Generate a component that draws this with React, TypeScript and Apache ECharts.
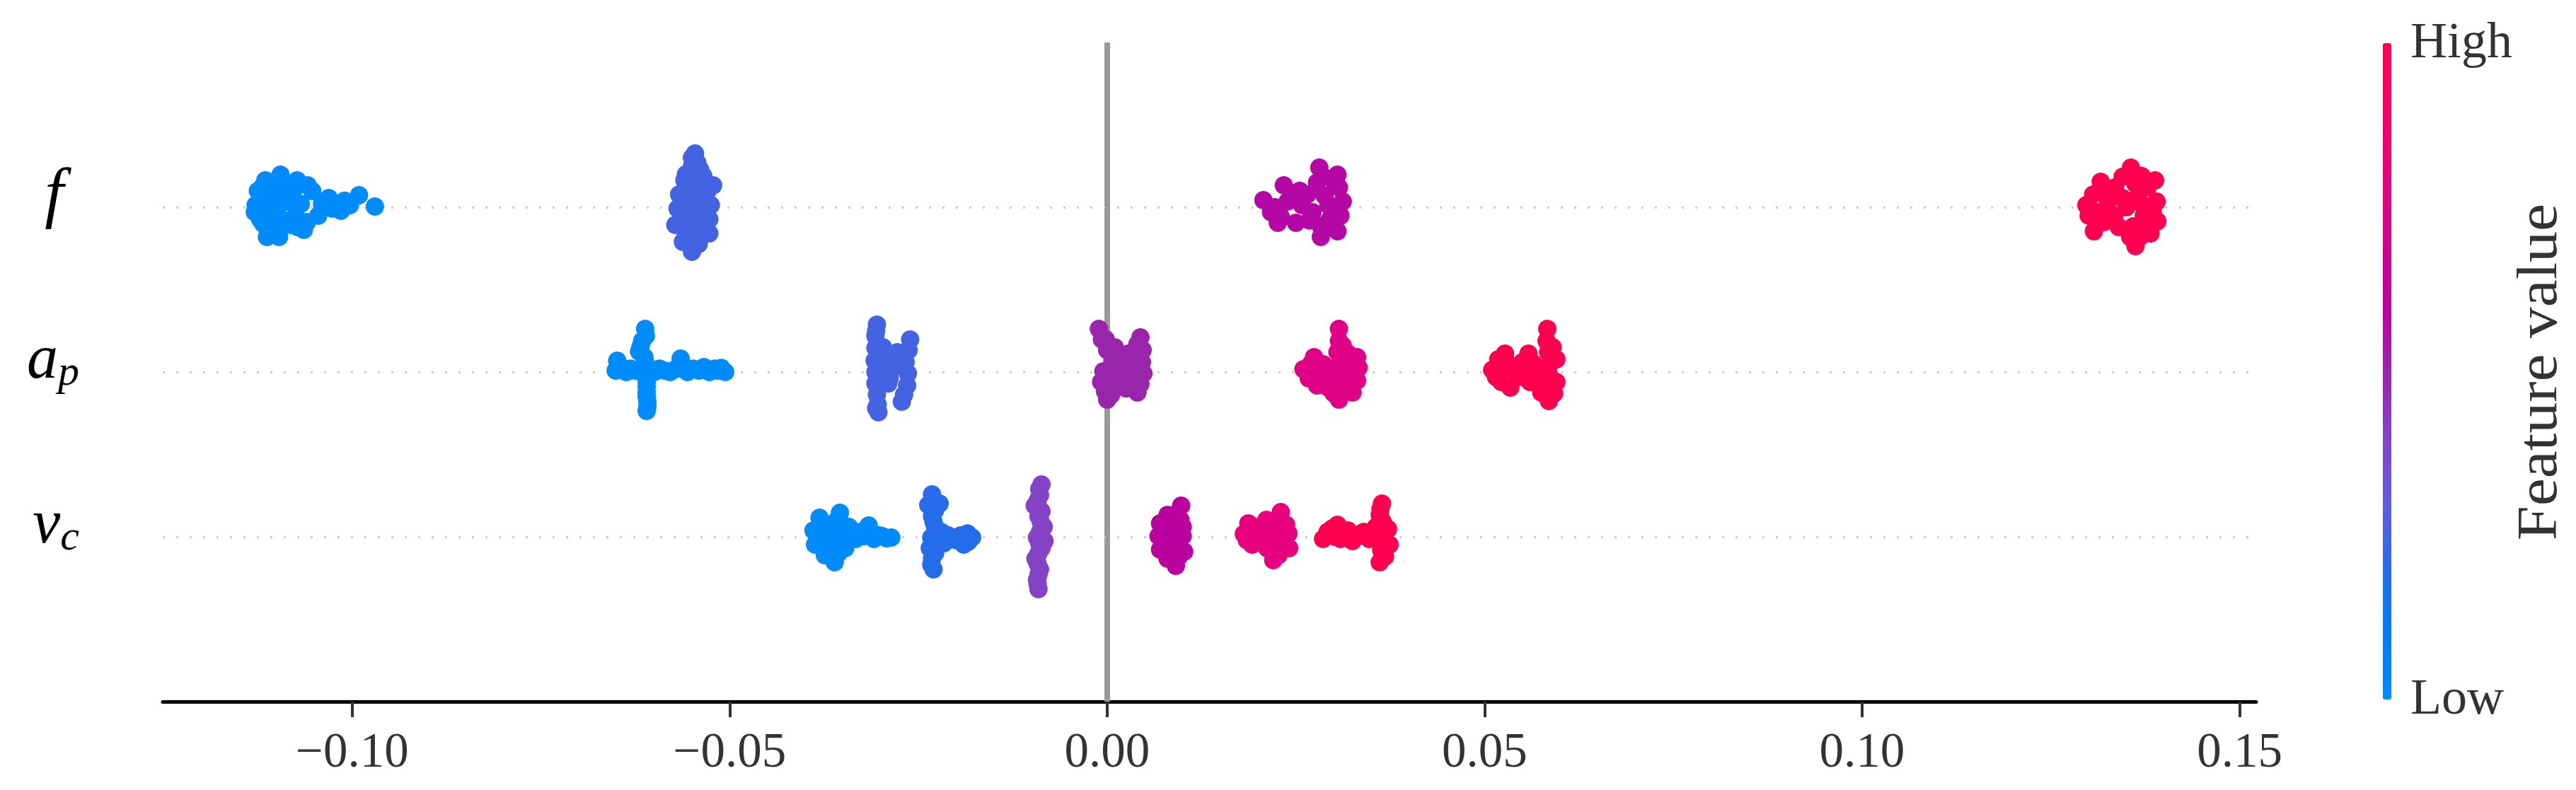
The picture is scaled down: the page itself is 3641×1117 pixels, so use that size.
import React, { useEffect, useRef } from "react";
import * as echarts from "echarts";

// ---------- axis / legend content ----------
const X_MIN = -0.1251;
const X_MAX = 0.1522;
const X_TICKS = [-0.1, -0.05, 0, 0.05, 0.1, 0.15];
const ROW_LABELS = ["v_c", "a_p", "f"]; // rows 0, 1, 2 (bottom to top)
const LEGEND_TEXT = { high: "High", low: "Low", title: "Feature value" };

// SHAP red_blue colormap (low -> high)
const COLOR_STOPS = [
  "#008bfb", "#007cf5", "#246cea", "#635adb", "#8443c6", "#9b24ad",
  "#bb00a0", "#d5008f", "#e9007c", "#f90067", "#ff0051",
];

// normalised feature value of each cluster (0 = low, 1 = high)
const F_LEVELS = [0, 0.25, 0.58, 1];
const AP_LEVELS = [0, 0.25, 0.5, 0.75, 1];
const VC_LEVELS = [0, 0.2, 0.4, 0.6, 0.8, 1];

// ---------- SHAP values: [shap value, beeswarm offset] ----------
const f_L0 = [[-0.1128,0.013],[-0.1125,0.099],[-0.1122,-0.073],[-0.1115,0.163],[-0.1113,0.013],[-0.1111,-0.124],[-0.1113,-0.18],[-0.1101,0.099],[-0.1099,-0.052],[-0.1095,0.197],[-0.1097,-0.18],[-0.1087,0.034],[-0.1083,0.133],[-0.1081,-0.107],[-0.1073,0.163],[-0.1075,-0.052],[-0.1064,-0.137],[-0.1059,0.133],[-0.1053,0.099],[-0.1045,-0.052],[-0.1031,0.056],[-0.1015,-0.021],[-0.1003,0.013],[-0.0991,0.073],[-0.097,0.004],[-0.1026,-0.009],[-0.1106,0.056],[-0.1092,-0.116],[-0.1129,-0.03],
  [-0.112,0.03],[-0.1105,-0.02],[-0.109,0.07],[-0.1078,0.1],[-0.1068,0.02],[-0.106,-0.09],[-0.1105,-0.15],[-0.1118,0.13],[-0.104,0.02],[-0.101,0.04],[-0.11,0.16],[-0.1072,-0.12],[-0.1118,-0.1],[-0.1085,-0.08],[-0.1095,0.02]];
const f_L1 = [[-0.0546,0.326],[-0.055,0.249],[-0.0539,0.227],[-0.056,0.163],[-0.0544,0.15],[-0.0522,0.133],[-0.0567,0.077],[-0.0553,0.064],[-0.0534,0.047],[-0.0525,0.013],[-0.0569,-0.009],[-0.0556,-0.03],[-0.0539,-0.052],[-0.0527,-0.073],[-0.0572,-0.107],[-0.056,-0.137],[-0.0544,-0.15],[-0.0527,-0.159],[-0.0562,-0.21],[-0.055,-0.27],[-0.0541,-0.223],
  [-0.055,0.3],[-0.0535,0.19],[-0.0555,0.11],[-0.0548,0.02],[-0.0548,-0.09],[-0.0535,-0.12],[-0.0553,-0.18],[-0.0558,0.2],[-0.053,0.09],[-0.0543,0.27]];
const f_L2 = [[0.0207,0.043],[0.0217,-0.03],[0.0226,-0.094],[0.0234,0.133],[0.0239,0.034],[0.025,-0.094],[0.0258,0.013],[0.0265,0.077],[0.0272,-0.03],[0.0281,0.24],[0.0278,0.15],[0.0283,-0.116],[0.0283,-0.18],[0.0293,0.013],[0.0305,0.197],[0.0307,0.12],[0.0312,0.034],[0.0309,-0.052],[0.0305,-0.146],[0.0295,-0.073],
  [0.0245,0.06],[0.0222,0],[0.0268,-0.08],[0.0288,0.07],[0.03,0.16],[0.0297,-0.11],[0.0285,0.19],[0.03,-0.02],[0.023,-0.06],[0.0255,0.1]];
const f_L3 = [[0.1297,0.013],[0.1306,0.077],[0.1316,0.155],[0.1312,-0.03],[0.1307,-0.146],[0.1326,0.034],[0.1334,-0.052],[0.1345,0.056],[0.1345,0.185],[0.1356,0.24],[0.1362,0.142],[0.1359,-0.116],[0.1362,-0.236],[0.1368,-0.18],[0.1372,0.013],[0.1378,0.12],[0.1388,0.163],[0.139,0.034],[0.1391,-0.086],[0.1382,-0.159],[0.1373,-0.052],
  [0.132,0.1],[0.1335,0.12],[0.135,0],[0.1365,0.06],[0.138,-0.1],[0.1355,-0.18],[0.137,0.19],[0.1385,-0.03],[0.132,-0.09],[0.13,-0.05],[0.134,-0.12]];

const ap_L0 = [[-0.0651,0.009],[-0.0649,0.069],[-0.0637,0],[-0.0625,0.009],[-0.06,0],[-0.0586,0.009],[-0.0572,0.017],[-0.0565,0.082],[-0.0556,0],[-0.0541,0.009],[-0.0527,0],[-0.0516,0.009],[-0.0506,0],[-0.0612,0.262],[-0.0616,0.189],[-0.062,0.124],[-0.0612,0.06],[-0.061,-0.06],[-0.061,-0.124],[-0.0609,-0.18],[-0.061,-0.236],[-0.0612,0],
  [-0.0644,0.03],[-0.0631,0.02],[-0.0593,0.02],[-0.0579,0],[-0.0563,0.03],[-0.0548,0.02],[-0.0534,0.03],[-0.052,0.02],[-0.0511,0.025],[-0.0611,0.22],[-0.0618,0.155],[-0.0613,0.09],[-0.0611,-0.03],[-0.061,-0.09],[-0.061,-0.15],[-0.0609,-0.21]];
const ap_L1 = [[-0.0305,0.288],[-0.0307,0.219],[-0.0307,0.146],[-0.0308,0.069],[-0.0307,0],[-0.0307,-0.069],[-0.0305,-0.137],[-0.0304,-0.197],[-0.0303,-0.245],[-0.0291,0.09],[-0.0284,0.026],[-0.0288,-0.039],[-0.0278,0.12],[-0.0261,0.197],[-0.0263,0.133],[-0.0267,0.06],[-0.0264,-0.009],[-0.0265,-0.082],[-0.0269,-0.137],[-0.0272,-0.18],
  [-0.0296,0.05],[-0.0294,-0.02],[-0.029,-0.07],[-0.0297,0.15],[-0.0306,0.25],[-0.0306,-0.22],[-0.0275,0.07]];
const ap_L2 = [[-0.0011,0.262],[-0.0007,0.197],[0,0.133],[0.0007,0.069],[0.0014,0.017],[-0.0005,0.004],[-0.0008,-0.06],[-0.0003,-0.116],[0,-0.167],[0.0012,-0.094],[0.0023,-0.039],[0.0033,0.004],[0.0044,0.21],[0.0047,0.133],[0.0046,0.06],[0.0048,-0.009],[0.0044,-0.073],[0.004,-0.124],[0.0028,0.112],
  [0.001,0.15],[0.002,0.08],[0.003,0.04],[0.0015,-0.03],[0.0035,-0.06],[0.0025,-0.1],[-0.0002,0.2],[0.004,0.17],[0.0005,-0.14]];
const ap_L3 = [[0.0307,0.262],[0.0307,0.189],[0.0305,0.12],[0.0307,0.047],[0.0309,-0.017],[0.0307,-0.094],[0.0307,-0.167],[0.026,0.017],[0.0267,-0.039],[0.0274,0.09],[0.0278,-0.082],[0.0286,0.047],[0.0293,-0.094],[0.0331,0.09],[0.0333,0.026],[0.0331,-0.052],[0.0325,-0.124],[0.0319,0.112],
  [0.03,0],[0.0315,0.05],[0.032,-0.08],[0.029,0],[0.03,-0.13],[0.0312,0.16],[0.0282,-0.03],[0.027,0.05],[0.0318,-0.02]];
const ap_L4 = [[0.051,0.013],[0.0518,0.077],[0.0527,0.112],[0.0522,-0.06],[0.0534,-0.094],[0.0539,0.017],[0.055,0.06],[0.0558,0.112],[0.056,-0.06],[0.0569,0.004],[0.0583,0.262],[0.0582,0.189],[0.0584,0.12],[0.0586,0.047],[0.0586,-0.026],[0.0585,-0.103],[0.0585,-0.176],[0.0595,0.077],[0.0595,-0.06],[0.0575,-0.124],
  [0.053,0.04],[0.0545,-0.03],[0.0565,0.05],[0.0572,-0.08],[0.059,0.15],[0.0592,-0.13],[0.0555,-0.02],[0.0515,-0.03],[0.0528,0.07]];

const vc_L0 = [[-0.0389,0.039],[-0.0387,-0.047],[-0.0381,0.116],[-0.0377,0.004],[-0.0374,-0.112],[-0.0366,0.073],[-0.0364,-0.026],[-0.0361,-0.155],[-0.0354,0.146],[-0.0352,0.03],[-0.0347,-0.069],[-0.0342,0.06],[-0.0333,-0.013],[-0.0322,0.004],[-0.0309,-0.013],[-0.0298,0.004],[-0.0286,-0.004],[-0.0316,0.069],
  [-0.038,0.06],[-0.037,-0.06],[-0.0358,0.1],[-0.0368,0.02],[-0.0356,-0.1],[-0.0345,0],[-0.0384,-0.02],[-0.0327,0.03],[-0.0303,0.01],[-0.0292,-0.01]];
const vc_L1 = [[-0.0232,0.258],[-0.0222,0.202],[-0.0237,0.193],[-0.0232,0.124],[-0.0228,0.06],[-0.0233,-0.004],[-0.0235,-0.069],[-0.0232,-0.133],[-0.023,-0.197],[-0.022,0.03],[-0.0216,-0.039],[-0.0206,-0.004],[-0.0194,0.009],[-0.019,-0.047],[-0.0179,-0.004],
  [-0.0228,0.16],[-0.023,0.09],[-0.0226,0.02],[-0.023,-0.04],[-0.0228,-0.1],[-0.0233,-0.17],[-0.0211,0.01],[-0.02,-0.02],[-0.0185,0.02],[-0.0184,-0.03]];
const vc_L2 = [[-0.0087,0.318],[-0.0089,0.253],[-0.0096,0.189],[-0.0091,0.124],[-0.0084,0.06],[-0.0093,-0.004],[-0.0087,-0.069],[-0.0095,-0.133],[-0.0089,-0.197],[-0.0093,-0.262],[-0.0091,-0.318],[-0.0083,-0.026],
  [-0.009,0.29],[-0.0092,0.22],[-0.0087,0.155],[-0.0088,0.09],[-0.0089,0.03],[-0.009,-0.04],[-0.0091,-0.1],[-0.0092,-0.165],[-0.0091,-0.23],[-0.0092,-0.29]];
const vc_L3 = [[0.007,0.082],[0.0068,0.004],[0.007,-0.077],[0.008,0.133],[0.0082,0.039],[0.0084,-0.039],[0.008,-0.133],[0.0091,-0.176],[0.0098,0.189],[0.0097,0.103],[0.01,0.004],[0.0102,-0.09],[0.0091,-0.004],
  [0.0075,0.03],[0.0087,0.08],[0.009,-0.06],[0.0078,-0.1],[0.0092,0.14],[0.0086,0],[0.0075,-0.03],[0.0095,-0.12],[0.01,0.06]];
const vc_L4 = [[0.0181,0.017],[0.0187,0.082],[0.0192,-0.047],[0.0202,0.03],[0.0209,-0.026],[0.0216,0.06],[0.022,-0.09],[0.023,0.15],[0.0228,-0.004],[0.0237,0.073],[0.0241,-0.069],[0.022,-0.142],[0.0211,0.103],
  [0.0195,0.06],[0.02,-0.01],[0.0215,0.02],[0.0225,0.04],[0.0232,-0.04],[0.023,0.1],[0.0212,-0.07],[0.0185,-0.02],[0.024,0.02],[0.0227,-0.11]];
const vc_L5 = [[0.0286,-0.013],[0.0297,0.017],[0.0309,-0.013],[0.0319,0.039],[0.0325,-0.026],[0.0335,0.017],[0.0347,-0.013],[0.0356,0.06],[0.0364,0.202],[0.0361,0.133],[0.0366,-0.004],[0.0363,-0.082],[0.0361,-0.155],[0.0372,0.047],[0.0374,-0.047],[0.0305,0.073],
  [0.0292,0.03],[0.0302,0],[0.0314,0.02],[0.033,0],[0.034,0.03],[0.0352,-0.01],[0.0362,0.17],[0.0365,0.09],[0.0364,0.03],[0.0368,-0.12],[0.0362,-0.04],[0.0298,0.05]];

const F_CLUSTERS = [f_L0, f_L1, f_L2, f_L3];
const AP_CLUSTERS = [ap_L0, ap_L1, ap_L2, ap_L3, ap_L4];
const VC_CLUSTERS = [vc_L0, vc_L1, vc_L2, vc_L3, vc_L4, vc_L5];

function buildRow(clusters: number[][][], levels: number[], row: number) {
  const out: number[][] = [];
  clusters.forEach((pts, ci) => {
    pts.forEach(([x, j]) => out.push([x, row + j, levels[ci]]));
  });
  return out;
}

const SERIF = "'Liberation Serif', 'Times New Roman', serif";

export default function App() {
  const ref = useRef<HTMLDivElement>(null);

  useEffect(() => {
    document.body.style.margin = "0";
    if (!ref.current) return;
    const chart = echarts.init(ref.current, undefined, { renderer: "svg" });

    const dotted = { color: "#cccccc", width: 3, type: [3, 16] as any };
    const yLabel = (v: number) => {
      const name = ROW_LABELS[Math.round(v)];
      if (v < 0 || v > 2 || !name) return "";
      if (name === "f") return "{fi|f}";
      const [base, sub] = name.split("_");
      return `{i|${base}}{s|${sub}}`;
    };

    const option: any = {
      animation: false,
      backgroundColor: "#ffffff",
      grid: { left: 230, right: 452, top: 60, bottom: 125, containLabel: false },
      xAxis: {
        type: "value",
        min: X_MIN,
        max: X_MAX,
        axisLine: { show: true, onZero: false, lineStyle: { color: "#000000", width: 5 } },
        axisTick: {
          show: true,
          customValues: X_TICKS,
          length: 22,
          lineStyle: { color: "#333333", width: 4 },
        },
        axisLabel: {
          customValues: X_TICKS,
          formatter: (v: number) => {
            const a = Math.abs(v).toFixed(2);
            return v < -1e-9 ? "\u2212" + a : a;
          },
          fontFamily: SERIF,
          fontSize: 69,
          color: "#333333",
          margin: 34,
        },
        splitLine: { show: false },
      },
      yAxis: {
        type: "value",
        min: -1,
        max: 3,
        interval: 1,
        axisLine: { show: false, onZero: false },
        axisTick: { show: false },
        splitLine: { show: false },
        axisLabel: {
          formatter: yLabel,
          margin: 118,
          padding: [0, 0, 44, 0],
          rich: {
            fi: { fontFamily: SERIF, fontStyle: "italic", fontSize: 96, lineHeight: 100, color: "#000", padding: [0, 22, 0, 0] },
            i: { fontFamily: SERIF, fontStyle: "italic", fontSize: 88, lineHeight: 100, color: "#000" },
            s: { fontFamily: SERIF, fontStyle: "italic", fontSize: 60, lineHeight: 56, color: "#000", verticalAlign: "bottom" },
          },
        },
      },
      visualMap: {
        type: "continuous",
        dimension: 2,
        min: 0,
        max: 1,
        orient: "vertical",
        left: 3368,
        top: 61,
        itemWidth: 12,
        itemHeight: 928,
        padding: 0,
        calculable: false,
        hoverLink: false,
        showLabel: false,
        inRange: { color: COLOR_STOPS },
      },
      graphic: [
        {
          type: "text",
          left: 3407,
          top: 61 - 40,
          style: { text: LEGEND_TEXT.high, fontFamily: SERIF, fontSize: 72, fill: "#333333" },
        },
        {
          type: "text",
          left: 3407,
          top: 989 - 40,
          style: { text: LEGEND_TEXT.low, fontFamily: SERIF, fontSize: 72, fill: "#333333" },
        },
        {
          type: "text",
          x: 3586,
          y: 526,
          rotation: Math.PI / 2,
          scaleX: 1.1,
          style: {
            text: LEGEND_TEXT.title,
            fontFamily: SERIF,
            fontSize: 80,
            fill: "#333333",
            align: "center",
            verticalAlign: "middle",
          },
        },
      ],
      series: [
        {
          name: "f",
          type: "scatter",
          data: buildRow(F_CLUSTERS, F_LEVELS, 2),
          symbolSize: 26,
          itemStyle: { opacity: 1 },
          z: 5,
          silent: true,
          markLine: {
            silent: true,
            z: 1,
            symbol: ["none", "none"],
            label: { show: false },
            data: [
              { xAxis: 0, lineStyle: { color: "#999999", width: 8, type: "solid" } },
              { yAxis: 0, lineStyle: dotted },
              { yAxis: 1, lineStyle: dotted },
              { yAxis: 2, lineStyle: dotted },
            ],
          },
        },
        {
          name: "a_p",
          type: "scatter",
          data: buildRow(AP_CLUSTERS, AP_LEVELS, 1),
          symbolSize: 26,
          itemStyle: { opacity: 1 },
          z: 5,
          silent: true,
        },
        {
          name: "v_c",
          type: "scatter",
          data: buildRow(VC_CLUSTERS, VC_LEVELS, 0),
          symbolSize: 26,
          itemStyle: { opacity: 1 },
          z: 5,
          silent: true,
        },
      ],
    };

    chart.setOption(option);
    return () => chart.dispose();
  }, []);

  return <div ref={ref} style={{ width: 3641, height: 1117 }} />;
}
